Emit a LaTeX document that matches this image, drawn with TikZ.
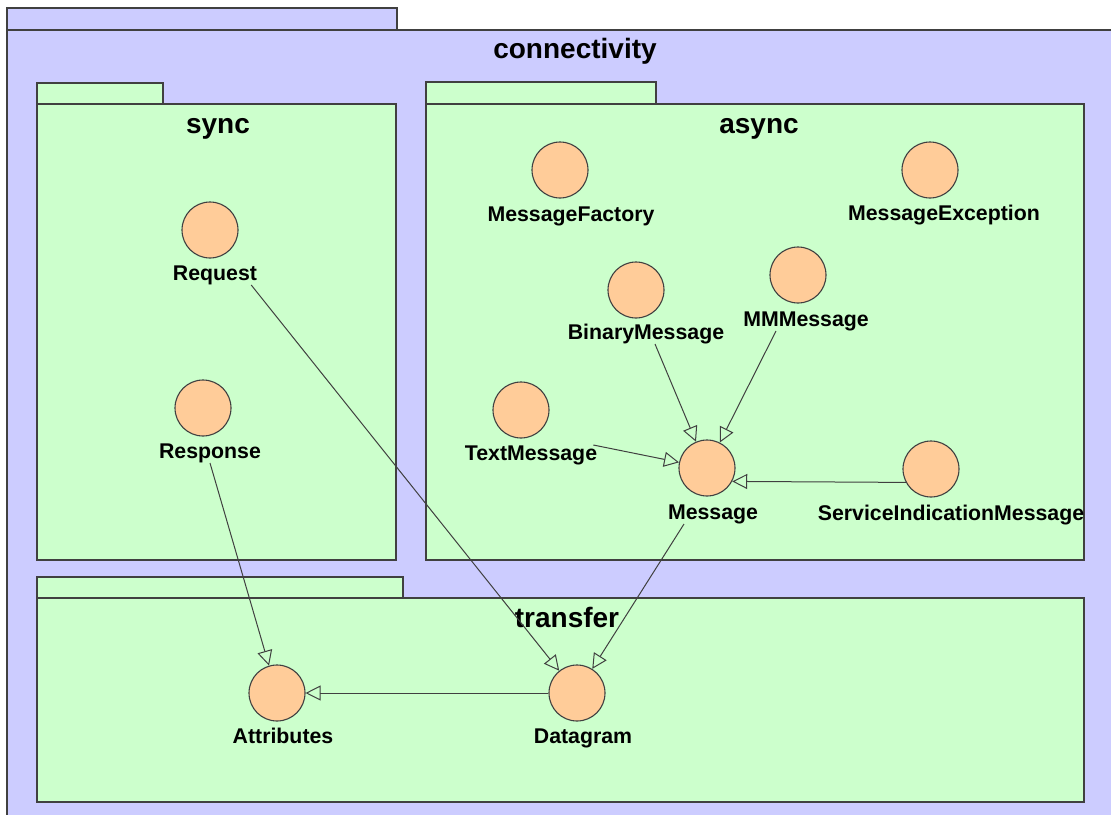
\documentclass[tikz,border=0pt]{standalone}
\usepackage{fontspec}
\setmainfont{Liberation Sans}
\usetikzlibrary{arrows.meta}
\definecolor{pkgblue}{HTML}{CCCCFF}
\definecolor{pkggreen}{HTML}{CCFFCC}
\definecolor{ifacefill}{HTML}{FFCC99}
\definecolor{linec}{HTML}{404040}
\begin{document}
\begin{tikzpicture}[x=1pt,y=-1pt,
  pkgline/.style={draw=linec,line width=1.4pt},
  iface/.style={circle,draw=linec,line width=1.1pt,fill=ifacefill,minimum size=56pt,inner sep=0pt},
  lbl/.style={font=\fontsize{21.3}{23}\selectfont\bfseries,inner sep=0pt,text height=15.4pt,text depth=4.2pt},
  ttl/.style={font=\fontsize{28}{31}\selectfont\bfseries,inner sep=0pt},
  conn/.style={draw=linec,line width=1pt,-{Triangle[open,length=15pt,width=15pt,line width=1pt]}}]
\useasboundingbox (0,0) rectangle (1111,814);
\fill[white] (0,0) rectangle (1111,814);
\begin{scope}
\clip (0,0) rectangle (1111,814);
% outer package
\filldraw[pkgline,fill=pkgblue] (7,8) rectangle (397,30);
\filldraw[pkgline,fill=pkgblue] (7,30) rectangle (1140,840);
% sync
\filldraw[pkgline,fill=pkggreen] (37,83) rectangle (163,104);
\filldraw[pkgline,fill=pkggreen] (37,104) rectangle (396,560);
% async
\filldraw[pkgline,fill=pkggreen] (426,82) rectangle (656,104);
\filldraw[pkgline,fill=pkggreen] (426,104) rectangle (1084,560);
% transfer
\filldraw[pkgline,fill=pkggreen] (37,577) rectangle (403,598);
\filldraw[pkgline,fill=pkggreen] (37,598) rectangle (1084,802);
\end{scope}
% titles
\node[ttl] (tconn) at (575,51) {connectivity};
\node[ttl] (tsync) at (218,129) {sync};
\node[ttl] (tasync) at (759,129) {async};
\node[ttl] (ttransfer) at (567,617) {transfer};
% interfaces
\node[iface] (mf) at (560,170) {};
\node[lbl] (mfL) at (571,216) {MessageFactory};
\node[iface] (me) at (930,170) {};
\node[lbl] (meL) at (944,215) {MessageException};
\node[iface] (req) at (210,230) {};
\node[lbl] (reqL) at (215,275) {Request};
\node[iface] (bin) at (636,290) {};
\node[lbl] (binL) at (646,334) {BinaryMessage};
\node[iface] (mm) at (798,275) {};
\node[lbl] (mmL) at (806,321) {MMMessage};
\node[iface] (resp) at (203,408) {};
\node[lbl] (respL) at (210,453) {Response};
\node[iface] (txt) at (521,410) {};
\node[lbl] (txtL) at (531,455) {TextMessage};
\node[iface] (msg) at (707,468) {};
\node[lbl] (msgL) at (713,514) {Message};
\node[iface] (sim) at (931,469) {};
\node[lbl] (simL) at (951,515) {ServiceIndicationMessage};
\node[iface] (attr) at (277,693) {};
\node[lbl] (attrL) at (283,738) {Attributes};
\node[iface] (dg) at (577,693) {};
\node[lbl] (dgL) at (583,738) {Datagram};
% connectors
\draw[conn] ([xshift=-6pt]reqL.south east) -- (dg);
\draw[conn] (respL.south) -- (attr);
\draw[conn] ([xshift=-4pt]txtL.north east) -- (msg);
\draw[conn] ([xshift=9pt]binL.south) -- (msg);
\draw[conn] ([xshift=-30pt]mmL.south) -- (msg);
\draw[conn] (sim.208) -- (msg.-28);
\draw[conn] ([xshift=-29pt]msgL.south) -- (dg);
\draw[conn] (dg.west) -- (attr.east);
\end{tikzpicture}
\end{document}
